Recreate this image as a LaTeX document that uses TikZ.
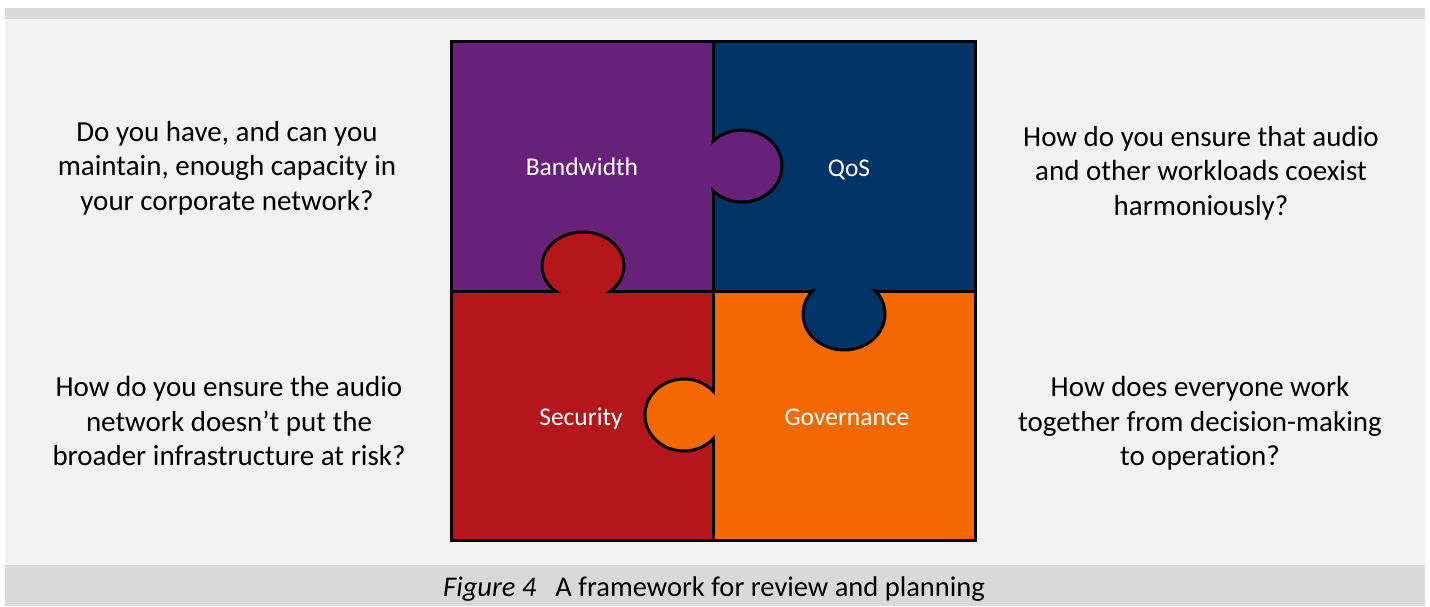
\documentclass[tikz,border=0pt]{standalone}
\usepackage{fontspec}
\setmainfont{Carlito}[Ligatures=NoCommon]
\definecolor{barGray}{HTML}{D9D9D9}
\definecolor{panelGray}{HTML}{F2F2F2}
\definecolor{cPurple}{HTML}{68217A}
\definecolor{cNavy}{HTML}{003366}
\definecolor{cRed}{HTML}{B3171C}
\definecolor{cOrange}{HTML}{F46800}
\begin{document}
\begin{tikzpicture}[x=1pt,y=-1pt,
  edge/.style={draw=black,line width=3pt,line join=miter},
  qtext/.style={align=center,text=black,inner sep=0pt,
    font=\fontsize{29}{34.5}\selectfont},
  ptext/.style={text=white,inner sep=0pt,font=\fontsize{25.5}{30}\selectfont},
  captext/.style={text=black,inner sep=0pt,font=\fontsize{28.5}{34}\selectfont}]
\useasboundingbox (0,0) rectangle (1430,606);
% background panel and bars
\fill[white] (0,0) rectangle (1430,606);
\fill[barGray] (5,8) rectangle (1425,19);
\fill[panelGray] (5,19) rectangle (1425,565);
\fill[barGray] (5,565) rectangle (1425,606);

% the four puzzle pieces
\fill[cPurple] (451,41) rectangle (713,291);
\fill[cNavy]   (713,41) rectangle (975,291);
\fill[cRed]    (451,291) rectangle (713,540);
\fill[cOrange] (713,291) rectangle (975,540);
\draw[edge] (713,41) -- (713,540);
\draw[edge] (451,291) -- (975,291);

% tabs: each fills over the seam, then is outlined inside its neighbour
\fill[cPurple] (742,166) ellipse [x radius=40, y radius=36];
\begin{scope}
  \clip (711.5,41) rectangle (975,291);
  \draw[edge] (742,166) ellipse [x radius=40, y radius=36];
\end{scope}
\fill[cRed] (583,266) ellipse [x radius=41, y radius=34];
\begin{scope}
  \clip (451,41) rectangle (713,292.5);
  \draw[edge] (583,266) ellipse [x radius=41, y radius=34];
\end{scope}
\fill[cNavy] (844,314) ellipse [x radius=41, y radius=36];
\begin{scope}
  \clip (713,289.5) rectangle (975,540);
  \draw[edge] (844,314) ellipse [x radius=41, y radius=36];
\end{scope}
\fill[cOrange] (684,415) ellipse [x radius=39, y radius=36];
\begin{scope}
  \clip (451,291) rectangle (714.5,540);
  \draw[edge] (684,415) ellipse [x radius=39, y radius=36];
\end{scope}
\draw[edge] (451,41) rectangle (975,540);

% piece labels
\node[ptext,anchor=base] (bw)  at (582,175) {Bandwidth};
\node[ptext,anchor=base] (qos) at (849,176) {QoS};
\node[ptext,anchor=base] (sec) at (581,425) {Security};
\node[ptext,anchor=base] (gov) at (847,425) {Governance};

% questions (base anchor sits on the last line)
\node[qtext,anchor=base] (qbw)  at (227,210)
  {Do you have, and can you\\maintain, enough capacity in\\your corporate network?};
\node[qtext,anchor=base] (qqos) at (1201,215)
  {How do you ensure that audio\\and other workloads coexist\\harmoniously?};
\node[qtext,anchor=base] (qsec) at (229,465.5)
  {How do you ensure the audio\\network doesn’t put the\\broader infrastructure at risk?};
\node[qtext,anchor=base] (qgov) at (1200,465.5)
  {How does everyone work\\together from decision-making\\to operation?};

% caption
\node[captext,anchor=base] (cap) at (714,596)
  {\textit{Figure 4}\hspace{19pt}A framework for review and planning};
\end{tikzpicture}
\end{document}
